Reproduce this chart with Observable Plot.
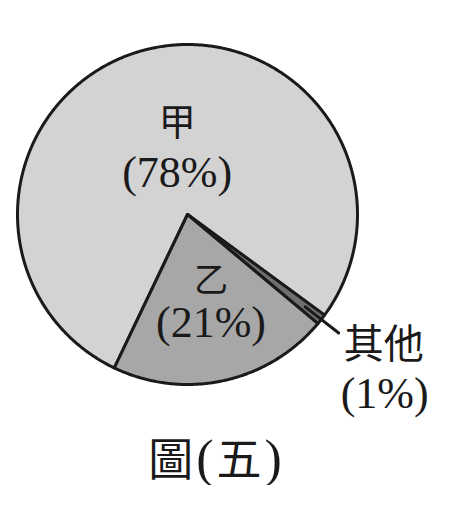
<!DOCTYPE html>
<html><head><meta charset="utf-8">
<script src="https://cdn.jsdelivr.net/npm/d3@7"></script>
<script src="https://cdn.jsdelivr.net/npm/@observablehq/plot@0.6"></script>
<style>
html,body{margin:0;padding:0;background:#fff;}
#chart svg{display:block;}
#cap{width:449px;text-align:center;position:relative;left:-8px;margin-top:8px;line-height:1;color:#1a1a1a;white-space:nowrap;letter-spacing:3px;}
#cap .cjk{font-family:"Noto Sans CJK TC";font-size:45px;}
#cap .lat{font-family:"Liberation Serif";font-size:52px;}
</style></head><body>
<div id="chart"></div>
<div id="cap"></div>
<script>
// ---- data ----
const names = ["甲", "其他", "乙"];
const percents = [78, 1, 21];
const pctLabels = ["(78%)", "(1%)", "(21%)"];
const colors = ["#d3d3d3", "#6f6f6f", "#a7a7a7"];
const captionParts = [["圖","cjk"],["(","lat"],["五","cjk"],[")","lat"]];

// ---- build slices from the data ----
const startDeg = 205.5; // compass degrees, clockwise from north
const total = d3.sum(percents);
let acc = startDeg;
const slices = names.map((name, i) => {
  const a0 = acc, a1 = acc + percents[i] / total * 360;
  acc = a1;
  return {name, pct: pctLabels[i], a0, a1, mid: (a0 + a1) / 2, i};
});
const pol = (deg, r) => {
  const t = deg * Math.PI / 180;
  return {x: r * Math.sin(t), y: r * Math.cos(t)};
};
const points = [];
for (const s of slices) {
  points.push({name: s.name, ...pol(s.a0, 0)});
  const n = Math.max(2, Math.ceil((s.a1 - s.a0) / 0.5));
  for (let k = 0; k <= n; k++) {
    points.push({name: s.name, ...pol(s.a0 + (s.a1 - s.a0) * k / n, 1)});
  }
  points.push({name: s.name, ...pol(s.a0, 0)});
}
const other = slices[1];
const leader = [{...pol(other.mid, 0.88)}, {...pol(other.mid, 1.13)}];

const ink = "#1a1a1a";
function innerLabel(s, r, nameDy, nameSize) {
  const p = pol(s.mid, r);
  return [
    Plot.text([s], {x: () => p.x, y: () => p.y, text: "pct",
      fontFamily: "Liberation Serif", fontSize: 44, fill: ink, lineAnchor: "middle"}),
    Plot.text([s], {x: () => p.x, y: () => p.y, dy: nameDy, text: "name",
      fontFamily: "Noto Sans CJK TC", fontSize: nameSize, fill: ink, lineAnchor: "middle"})
  ];
}

const chart = Plot.plot({
  width: 449,
  height: 425,
  margin: 0,
  style: {background: "#fff", overflow: "visible"},
  x: {domain: [-1, 1], range: [17, 357], axis: null},
  y: {domain: [-1, 1], range: [384, 44], axis: null},
  color: {domain: names, range: colors},
  marks: [
    Plot.line(points, {x: "x", y: "y", z: "name", fill: "name", stroke: ink, strokeWidth: 3, strokeLinejoin: "round", curve: "linear"}),
    Plot.line(leader, {x: "x", y: "y", stroke: ink, strokeWidth: 3}),
    ...innerLabel(slices[0], 0.25, -49, 37),
    ...innerLabel(slices[2], 0.65, -41, 34),
    Plot.text([other], {
      x: d => pol(d.mid, 1.13).x, y: d => pol(d.mid, 1.13).y,
      dx: 5, dy: 12, text: "name", textAnchor: "start",
      fontFamily: "Noto Sans CJK TC", fontSize: 40, fill: ink, lineAnchor: "middle"
    }),
    Plot.text([other], {
      x: d => pol(d.mid, 1.13).x, y: d => pol(d.mid, 1.13).y,
      dx: 2, dy: 61, text: "pct", textAnchor: "start",
      fontFamily: "Liberation Serif", fontSize: 44, fill: ink, lineAnchor: "middle"
    })
  ]
});
document.getElementById("chart").append(chart);
const cap = document.getElementById("cap");
for (const [t, c] of captionParts) {
  const sp = document.createElement("span");
  sp.className = c; sp.textContent = t; cap.append(sp);
}
</script>
</body></html>
